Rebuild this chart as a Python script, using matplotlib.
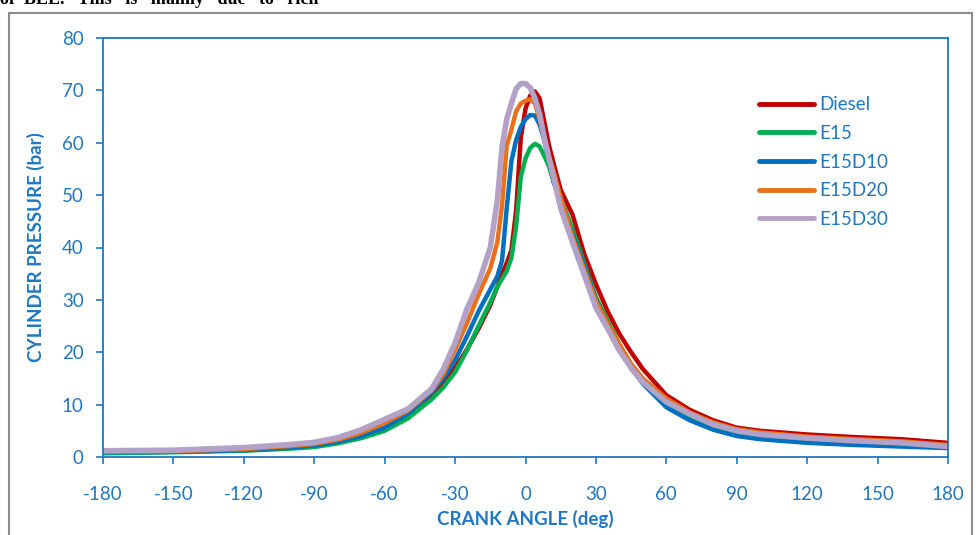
import matplotlib
matplotlib.use("Agg")
import matplotlib.pyplot as plt
from matplotlib.patches import Rectangle

angles = [-180, -150, -120, -100, -90, -80, -70, -60, -50, -40, -35, -30, -25, -20, -15, -12, -10,
          -8, -6, -4, -2, 0, 2, 4, 6, 8, 10, 12, 15, 20, 25, 30, 35, 40, 45, 50, 60, 70, 80, 90,
          100, 120, 140, 160, 180]

diesel = [0.9, 1.0, 1.3, 1.9, 2.3, 3.0, 4.0, 5.5, 8.0, 11.8, 14.2, 17.0, 20.5, 24.5, 29.0, 32.5, 35.0,
          37.0, 39.5, 47.0, 61.0, 66.5, 69.0, 69.8, 68.5, 64.0, 59.5, 56.0, 51.0, 46.3, 38.8, 33.0, 27.8, 23.5, 20.0, 16.8, 11.8, 9.0, 7.0, 5.6,
          5.0, 4.3, 3.8, 3.4, 2.7]
e15 = [0.7, 0.9, 1.2, 1.6, 1.9, 2.6, 3.6, 5.0, 7.4, 11.0, 13.3, 16.2, 20.3, 25.0, 29.5, 32.5, 34.0,
       35.5, 38.0, 44.0, 53.5, 57.0, 59.0, 59.8, 59.3, 57.5, 55.5, 52.5, 49.5, 43.5, 37.0, 30.5, 26.0, 21.5, 17.5, 14.3, 10.2, 7.6, 5.7, 4.5,
       3.9, 3.0, 2.6, 2.2, 1.8]
e15d10 = [0.9, 1.0, 1.3, 1.8, 2.2, 2.9, 4.0, 5.6, 8.3, 12.3, 15.0, 18.5, 23.0, 27.8, 32.0, 34.5, 37.5,
          47.5, 56.5, 60.5, 63.0, 64.5, 65.3, 65.2, 63.5, 60.5, 56.5, 52.5, 48.5, 42.5, 36.5, 30.0, 25.5, 21.0, 17.0, 14.0, 9.5, 7.0, 5.2, 4.0,
          3.4, 2.7, 2.3, 2.0, 1.7]
e15d20 = [1.0, 1.1, 1.5, 2.1, 2.5, 3.3, 4.6, 6.5, 8.9, 12.7, 15.8, 20.5, 25.5, 31.0, 36.0, 41.0, 48.0,
          59.5, 62.5, 66.0, 67.5, 68.0, 68.3, 67.5, 64.5, 61.0, 57.5, 54.5, 49.5, 42.0, 35.8, 29.8, 25.5, 21.5, 17.8, 15.0, 11.2, 8.5, 6.6, 5.3,
          4.7, 3.9, 3.4, 3.0, 2.3]
e15d30 = [1.2, 1.3, 1.8, 2.4, 2.8, 3.7, 5.2, 7.2, 9.2, 13.0, 16.8, 21.8, 28.2, 33.2, 40.0, 49.0, 59.2,
          64.5, 67.5, 70.3, 71.3, 71.3, 70.5, 68.5, 65.5, 61.0, 57.0, 53.3, 47.5, 41.0, 34.8, 28.5, 24.5, 20.3, 17.0, 14.3, 10.5, 8.2, 6.2, 5.0,
          4.3, 3.6, 3.1, 2.7, 2.0]

series_names = ["Diesel", "E15", "E15D10", "E15D20", "E15D30"]
series_values = [diesel, e15, e15d10, e15d20, e15d30]
series_colors = ["#C00000", "#00B050", "#0070C0", "#E8711A", "#B3A2C7"]
series_widths = [3.2, 3.2, 3.2, 3.2, 4.0]

x_ticks = list(range(-180, 181, 30))
y_ticks = list(range(0, 81, 10))

BLUE = "#1F78C1"
plt.rcParams['font.family'] = ['Lato', 'DejaVu Sans']
plt.rcParams['axes.unicode_minus'] = False

fig = plt.figure(figsize=(9.76, 5.35), dpi=100)
ax = fig.add_axes([103/976, 1-457/535, (948-103)/976, (457-38)/535])

for name, vals, c, lw in zip(series_names, series_values, series_colors, series_widths):
    ax.plot(angles, vals, color=c, lw=lw, label=name, solid_capstyle='round', solid_joinstyle='round')

ax.set_xlim(-180, 180)
ax.set_ylim(0, 80)
ax.set_xticks(x_ticks)
ax.set_yticks(y_ticks)
ax.tick_params(axis='both', colors=BLUE, labelcolor=BLUE, labelsize=13.5, length=5, width=1.2, direction='out')
ax.tick_params(axis='x', pad=16)
ax.tick_params(axis='y', pad=9)
for s in ax.spines.values():
    s.set_color(BLUE)
    s.set_linewidth(1.3)

ax.set_xlabel("CRANK ANGLE (deg)", color=BLUE, fontsize=13.5, fontweight='bold', labelpad=5)
ax.set_ylabel("CYLINDER PRESSURE (bar)", color=BLUE, fontsize=13.5, fontweight='bold', labelpad=12)

leg = ax.legend(loc='upper left', bbox_to_anchor=((750-103)/845, 1-(87-38)/419), frameon=False,
                fontsize=13.5, handlelength=2.9, handletextpad=0.3, labelspacing=0.62, borderpad=0)
for t in leg.get_texts():
    t.set_color(BLUE)
for h in leg.get_lines():
    h.set_linewidth(3.5)

# outer frame
fig.patches.append(Rectangle((9/976, -0.05), (972-9)/976, 1.05-13/535, transform=fig.transFigure,
                             fill=False, edgecolor='#8C8C8C', lw=1.5))
fig.text(0.0, 1.0, "of  BEE.   This   is   mainly   due   to   rich", fontsize=13,
         family='Liberation Serif', fontweight='bold', color='black', va='center', ha='left')

fig.savefig("out.png", dpi=100)
